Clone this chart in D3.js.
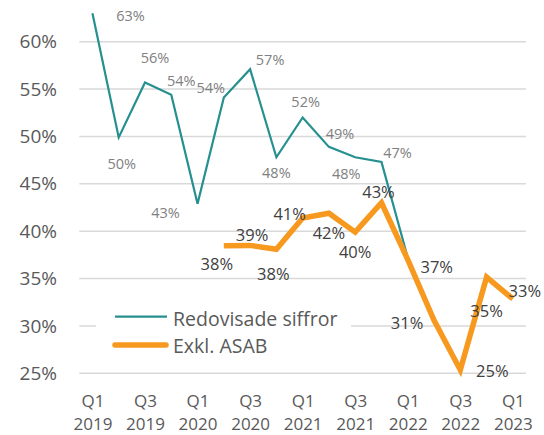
<!DOCTYPE html>
<html><head><meta charset="utf-8">
<script src="https://cdn.jsdelivr.net/npm/d3@7"></script>
<style>
html,body{margin:0;padding:0;background:#fff;}
svg{display:block;font-family:"Open Sans","Noto Sans",sans-serif;}
</style></head>
<body>
<svg id="chart" width="544" height="435"></svg>
<script>
// ---- data ----
const quarters = ["Q1 2019","Q2 2019","Q3 2019","Q4 2019","Q1 2020","Q2 2020","Q3 2020","Q4 2020",
  "Q1 2021","Q2 2021","Q3 2021","Q4 2021","Q1 2022","Q2 2022","Q3 2022","Q4 2022","Q1 2023"];
const xTickLabels = ["Q1 2019","Q3 2019","Q1 2020","Q3 2020","Q1 2021","Q3 2021","Q1 2022","Q3 2022","Q1 2023"];
const reportedValues = [63.0,49.9,55.7,54.4,42.9,54.1,57.1,47.8,52.0,48.9,47.8,47.3,37.2,null,null,null,null];
const exAsabValues   = [null,null,null,null,null,38.45,38.5,38.1,41.4,41.9,39.9,43.0,37.0,30.6,25.35,35.15,32.85];
const reportedLabelShown = [true,true,true,true,true,true,true,true,true,true,true,true,false,false,false,false,false];
const yTicks = [25,30,35,40,45,50,55,60];
const seriesNames = ["Redovisade siffror","Exkl. ASAB"];
// label placement offsets (px) relative to each point
const reportedLabelOffsets = [[38,2],[3,26],[10,-25],[10,-14],[-32,9],[-13,-10],[20,-10],[0,15],[3,-16],[11,-13],[-9,16],[16,-10],[0,0]];
const exAsabLabelOffsets = [null,null,null,null,null,[-7,18],[2,-11],[-3,24],[-13,-4],[0,19],[0,19],[-3,-11],[29,7],[-27,2],[32,1],[0,33],[12,-8]];

// ---- styles ----
const tealColor = "#25908f";
const orangeColor = "#f7991f";
const gridColor = "#d9d9d9";
const axisTextColor = "#595959";

const svg = d3.select("#chart");
const x = d3.scalePoint().domain(quarters).range([79.3, 526]).padding(0.5);
const y = d3.scaleLinear().domain([25, 60]).range([373.3, 41.7]);

// gridlines
svg.append("g").selectAll("line").data(yTicks).join("line")
  .attr("x1", 79.3).attr("x2", 526)
  .attr("y1", d => y(d)).attr("y2", d => y(d))
  .attr("stroke", gridColor).attr("stroke-width", 1.6);

// y axis labels
const yAxis = d3.axisLeft(y).tickValues(yTicks).tickFormat(d => d + "%").tickSize(0).tickPadding(0);
const yg = svg.append("g").attr("transform", "translate(57,0)").call(yAxis);
yg.select(".domain").remove();
yg.selectAll("text").attr("font-size", 19).attr("fill", axisTextColor)
  .attr("font-family", '"Open Sans","Noto Sans",sans-serif');

// x axis labels (two lines)
const xAxis = d3.axisBottom(x).tickValues(xTickLabels).tickSize(0).tickFormat("");
const xg = svg.append("g").attr("transform", "translate(0,380)").call(xAxis);
xg.select(".domain").remove();
xg.selectAll(".tick").each(function(d) {
  const parts = d.split(" ");
  const t = d3.select(this).append("text").attr("fill", axisTextColor).attr("font-size", 17)
    .attr("text-anchor", "middle").attr("font-family", '"Open Sans","Noto Sans",sans-serif');
  t.append("tspan").attr("x", 0).attr("y", 27).text(parts[0]);
  t.append("tspan").attr("x", 0).attr("y", 50).text(parts[1]);
});

// legend background (covers gridline)
svg.append("rect").attr("x", 96).attr("y", 300).attr("width", 255).attr("height", 60).attr("fill", "#fff");

// lines
const lineGen = d3.line().defined(d => d != null).x((d, i) => x(quarters[i])).y(d => y(d));
svg.append("path").datum(reportedValues).attr("d", lineGen)
  .attr("fill", "none").attr("stroke", tealColor).attr("stroke-width", 2.2);
svg.append("path").datum(exAsabValues).attr("d", lineGen)
  .attr("fill", "none").attr("stroke", orangeColor).attr("stroke-width", 5.5);

// data labels
const fmt = v => Math.round(v) + "%";
svg.append("g").selectAll("text")
  .data(reportedValues.map((v, i) => ({v, i})).filter(d => d.v != null && reportedLabelShown[d.i]))
  .join("text")
  .attr("x", d => x(quarters[d.i]) + reportedLabelOffsets[d.i][0])
  .attr("y", d => y(d.v) + reportedLabelOffsets[d.i][1])
  .attr("text-anchor", "middle").attr("dominant-baseline", "central")
  .attr("font-size", 14.5).attr("fill", "#808080")
  .text(d => fmt(d.v));
svg.append("g").selectAll("text")
  .data(exAsabValues.map((v, i) => ({v, i})).filter(d => d.v != null))
  .join("text")
  .attr("x", d => x(quarters[d.i]) + exAsabLabelOffsets[d.i][0])
  .attr("y", d => y(d.v) + exAsabLabelOffsets[d.i][1])
  .attr("text-anchor", "middle").attr("dominant-baseline", "central")
  .attr("font-size", 16.5).attr("fill", "#404040")
  .text(d => fmt(d.v));

// legend
const legend = svg.append("g");
legend.append("line").attr("x1", 115).attr("x2", 167).attr("y1", 316.7).attr("y2", 316.7)
  .attr("stroke", tealColor).attr("stroke-width", 2.2);
legend.append("line").attr("x1", 115).attr("x2", 166).attr("y1", 345).attr("y2", 345)
  .attr("stroke", orangeColor).attr("stroke-width", 5.5).attr("stroke-linecap", "round");
legend.selectAll("text.lg").data(seriesNames).join("text").attr("class", "lg")
  .attr("x", 173).attr("y", (d, i) => i === 0 ? 318 : 345)
  .attr("dominant-baseline", "central").attr("font-size", 19.5).attr("fill", axisTextColor)
  .text(d => d);
</script>
</body></html>
